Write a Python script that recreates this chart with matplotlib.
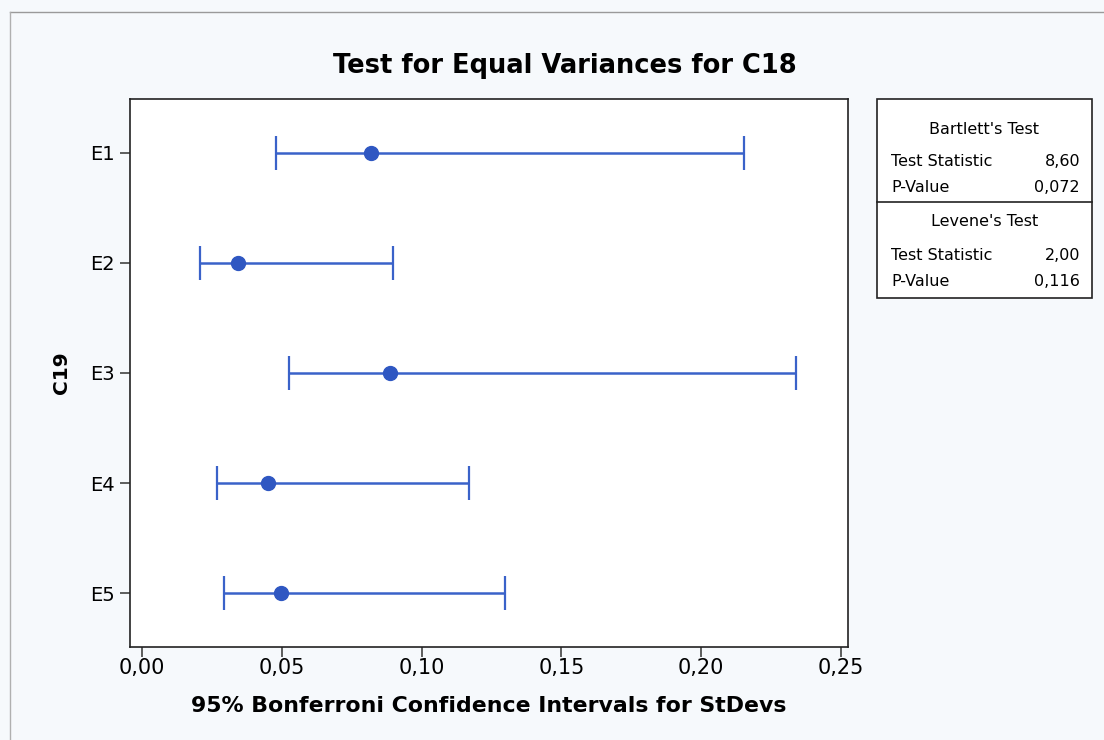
import matplotlib.pyplot as plt
from matplotlib.ticker import FuncFormatter
from matplotlib.patches import Rectangle

# Data
groups = ['E1', 'E2', 'E3', 'E4', 'E5']
stdev = [0.082, 0.0343, 0.0887, 0.0451, 0.0497]
ci_low = [0.048, 0.0207, 0.0526, 0.0268, 0.0293]
ci_high = [0.2153, 0.0898, 0.234, 0.117, 0.1298]

bartlett = [('Test Statistic', '8,60'), ('P-Value', '0,072')]
levene = [('Test Statistic', '2,00'), ('P-Value', '0,116')]

blue = '#3a62c9'
bg = '#f6f9fc'

fig = plt.figure(figsize=(11.04, 7.4), dpi=100, facecolor=bg)
ax = fig.add_axes([130/1104, 1-647/740, 718/1104, 548/740])
ax.set_facecolor('white')

ypos = list(range(1, len(groups) + 1))
err_lo = [s - l for s, l in zip(stdev, ci_low)]
err_hi = [h - s for s, h in zip(stdev, ci_high)]
ax.errorbar(stdev, ypos, xerr=[err_lo, err_hi], fmt='o', color=blue,
            ecolor=blue, elinewidth=1.8, capsize=12, capthick=1.6,
            markersize=10, markerfacecolor='#2f57c2', markeredgecolor='#2f57c2')

ax.set_ylim(5.49, 0.51)
ax.set_yticks(ypos)
ax.set_yticklabels(groups)
ax.set_xlim(-0.0043, 0.2525)
ax.set_xticks([0, 0.05, 0.10, 0.15, 0.20, 0.25])
ax.xaxis.set_major_formatter(FuncFormatter(lambda v, p: f'{v:.2f}'.replace('.', ',')))
ax.tick_params(axis='both', length=7, width=1.1, color='#333333')
ax.tick_params(axis='x', labelsize=15, pad=1)
ax.tick_params(axis='y', labelsize=14, pad=4)
for s in ax.spines.values():
    s.set_linewidth(1.2)
    s.set_color('#222222')

ax.set_xlabel('95% Bonferroni Confidence Intervals for StDevs', fontsize=15.8,
              fontweight='bold', labelpad=13)
ax.set_ylabel('C19', fontsize=14.5, fontweight='bold', labelpad=14)

fig.text(565/1104, 1-66/740, 'Test for Equal Variances for C18', ha='center',
         va='center', fontsize=18.5, fontweight='bold')

# Test results box
bx0, bx1 = 877/1104, 1092/1104
by_top, by_mid, by_bot = 1-99/740, 1-202/740, 1-298/740
fig.patches.append(Rectangle((bx0, by_bot), bx1-bx0, by_top-by_bot, transform=fig.transFigure,
                             facecolor='white', edgecolor='#222222', linewidth=1.2))
fig.add_artist(plt.Line2D([bx0, bx1], [by_mid, by_mid], transform=fig.transFigure,
                          color='#222222', linewidth=1.2))

def block(title, rows, y0):
    fig.text((bx0 + bx1) / 2, y0, title, ha='center', va='center', fontsize=11.5)
    for i, (k, v) in enumerate(rows):
        y = y0 - (33 + 26 * i) / 740
        fig.text(bx0 + 14/1104, y, k, ha='left', va='center', fontsize=11.5)
        fig.text(bx1 - 12/1104, y, v, ha='right', va='center', fontsize=11.5)

block("Bartlett's Test", bartlett, 1-129/740)
block("Levene's Test", levene, 1-222/740)

# faint outer border
fig.add_artist(plt.Line2D([10/1104, 1], [1-12/740, 1-12/740], transform=fig.transFigure,
                          color='#9a9a9a', linewidth=1))
fig.add_artist(plt.Line2D([10/1104, 10/1104], [0, 1-12/740], transform=fig.transFigure,
                          color='#b0b0b0', linewidth=1))

fig.savefig('out.png', dpi=100, facecolor=bg)
